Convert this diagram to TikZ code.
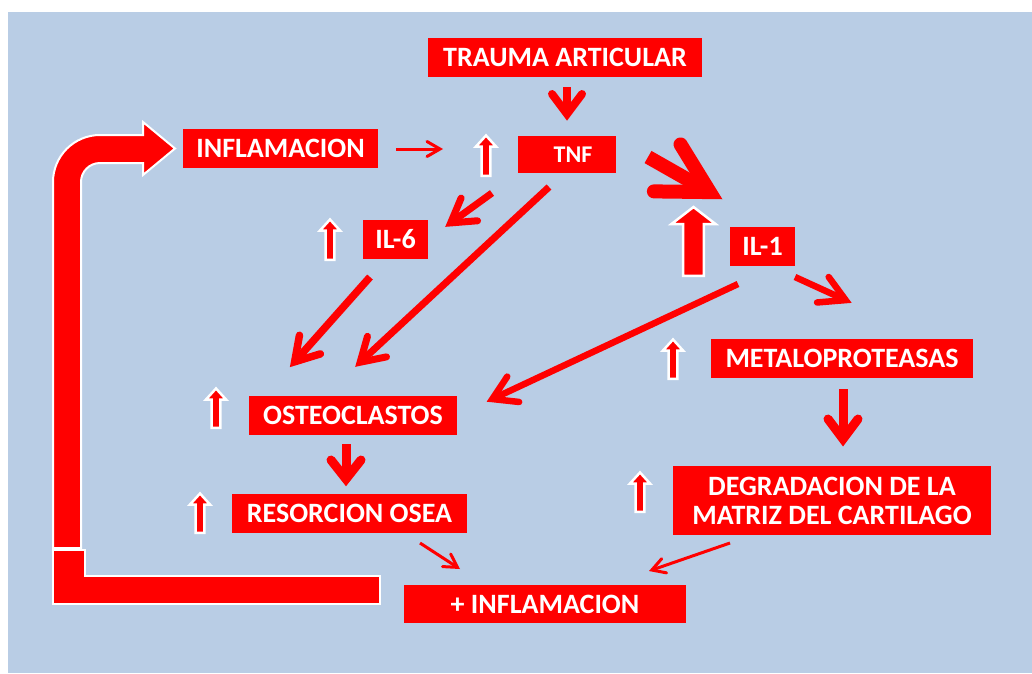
\documentclass[tikz,border=0pt]{standalone}
\usepackage{fontspec}
\setmainfont{Carlito}
\usetikzlibrary{calc}
\definecolor{bg}{HTML}{B9CDE5}
\definecolor{rd}{HTML}{FF0000}
\tikzset{
  box/.style={fill=rd, text=white, font=\bfseries\fontsize{28}{29}\selectfont,
    inner sep=0pt, align=center, anchor=center},
  bigshape/.style={draw=white, line width=2pt, fill=rd, line join=miter},
  upshape/.style={draw=white, line width=2.5pt, fill=rd, line join=miter},
}
% #1 start, #2 tip, #3 line width, #4 head length, #5 head half width, #6 tip offset
\newcommand\redarrow[6]{%
  \coordinate (ra-v) at ($(#2)!#6pt!(#1)$);
  \coordinate (ra-b) at ($(#2)!#4pt!(#1)$);
  \coordinate (ra-l) at ($(ra-b)!#5pt!90:(#2)$);
  \coordinate (ra-r) at ($(ra-b)!#5pt!-90:(#2)$);
  \draw[rd, line width=#3pt, line cap=butt] (#1) -- (ra-v);
  \draw[rd, line width=#3pt, line cap=round, line join=miter, miter limit=25]
    (ra-l) -- (ra-v) -- (ra-r);
}
% #1 cx, #2 top, #3 bottom, #4 shaft half, #5 head half, #6 head height
\newcommand\upmark[6]{%
  \draw[upshape] (#1-#4,#3) -- (#1-#4,#2+#6) -- (#1-#5,#2+#6) -- (#1,#2)
    -- (#1+#5,#2+#6) -- (#1+#4,#2+#6) -- (#1+#4,#3) -- cycle;
}
\begin{document}
\begin{tikzpicture}[x=1pt,y=-1pt]
\useasboundingbox (0,0) rectangle (1032,673);
\fill[bg] (8,12) rectangle (1032,673);

% feedback L-shape and bent arrow
\draw[bigshape] (53,550) -- (53,604) -- (380,604) -- (380,576) -- (85,576) -- (85,550) -- cycle;
\draw[bigshape] (53,548) -- (53,182) arc[start angle=180, end angle=270, radius=47]
  -- (143,135) -- (143,122) -- (175,148.5) -- (143,175) -- (143,163) -- (100,163)
  arc[start angle=270, end angle=180, radius=19] -- (81,548) -- cycle;

% boxes
\node[box, minimum width=274pt, minimum height=39pt] (trauma) at (565,57.5) {TRAUMA ARTICULAR};
\node[box, minimum width=98pt, minimum height=37pt, font=\bfseries\fontsize{24}{26}\selectfont] (tnf) at (567,154.5) {\hspace*{12pt}TNF};
\node[box, minimum width=195pt, minimum height=39pt] (infl) at (280.5,148.5) {INFLAMACION};
\node[box, minimum width=65pt, minimum height=39pt] (il6) at (395.5,239.5) {IL-6};
\node[box, minimum width=65pt, minimum height=39pt] (il1) at (762.5,246.5) {IL-1};
\node[box, minimum width=262pt, minimum height=39pt] (metalo) at (842,358.5) {METALOPROTEASAS};
\node[box, minimum width=208pt, minimum height=39pt] (osteo) at (353,415.5) {OSTEOCLASTOS};
\node[box, minimum width=235pt, minimum height=39pt] (resorc) at (349.5,513.5) {RESORCION OSEA};
\node[box, minimum width=318pt, minimum height=69pt] (degrad) at (832,500.5) {DEGRADACION DE LA\\ MATRIZ DEL CARTILAGO};
\node[box, minimum width=282pt, minimum height=38pt] (plus) at (545,604) {+ INFLAMACION};

% up marks
\upmark{486}{135.5}{175.8}{4.3}{10}{11}
\upmark{330}{219.5}{259.8}{4.3}{10}{11}
\upmark{673}{339.5}{378.8}{4.3}{10}{11}
\upmark{216}{388.5}{427.8}{4.3}{10}{11}
\upmark{200}{493.5}{532.8}{4.3}{10}{11}
\upmark{640}{472.5}{511.8}{4.3}{10}{11}
\upmark{693.5}{207}{275.8}{10.3}{22}{17}

% connector end points
\coordinate (a1) at (567,87);   \coordinate (a2) at (567,121);
\coordinate (b1) at (396,149);  \coordinate (b2) at (443,149);
\coordinate (d1) at (648,157);  \coordinate (d2) at (722,199);
\coordinate (e1) at (492,193);  \coordinate (e2) at (445,227);
\coordinate (f1) at (549,187);  \coordinate (f2) at (355,367);
\coordinate (g1) at (370,277);  \coordinate (g2) at (290,367);
\coordinate (h1) at (795,277);  \coordinate (h2) at (852,303);
\coordinate (i1) at (738,284);  \coordinate (i2) at (486,402);
\coordinate (j1) at (843,389);  \coordinate (j2) at (843,447);
\coordinate (k1) at (346,444);  \coordinate (k2) at (346,487);
\coordinate (l1) at (420,543);  \coordinate (l2) at (460,569);
\coordinate (m1) at (730,543);  \coordinate (m2) at (649,571);

\redarrow{a1}{a2}{8}{27}{15}{7}
\redarrow{b1}{b2}{3}{16}{7.5}{3}
\redarrow{d1}{d2}{14}{63}{27}{14}
\redarrow{e1}{e2}{7}{30}{14}{7}
\redarrow{f1}{f2}{7}{30}{14}{7}
\redarrow{g1}{g2}{7.5}{30}{14}{7}
\redarrow{h1}{h2}{6.5}{32}{14}{7}
\redarrow{i1}{i2}{6.5}{30}{14}{7}
\redarrow{j1}{j2}{9}{28}{15}{8}
\redarrow{k1}{k2}{9}{27}{15}{8}
\redarrow{l1}{l2}{3}{16}{7.5}{3}
\redarrow{m1}{m2}{3}{16}{7.5}{3}
\end{tikzpicture}
\end{document}
